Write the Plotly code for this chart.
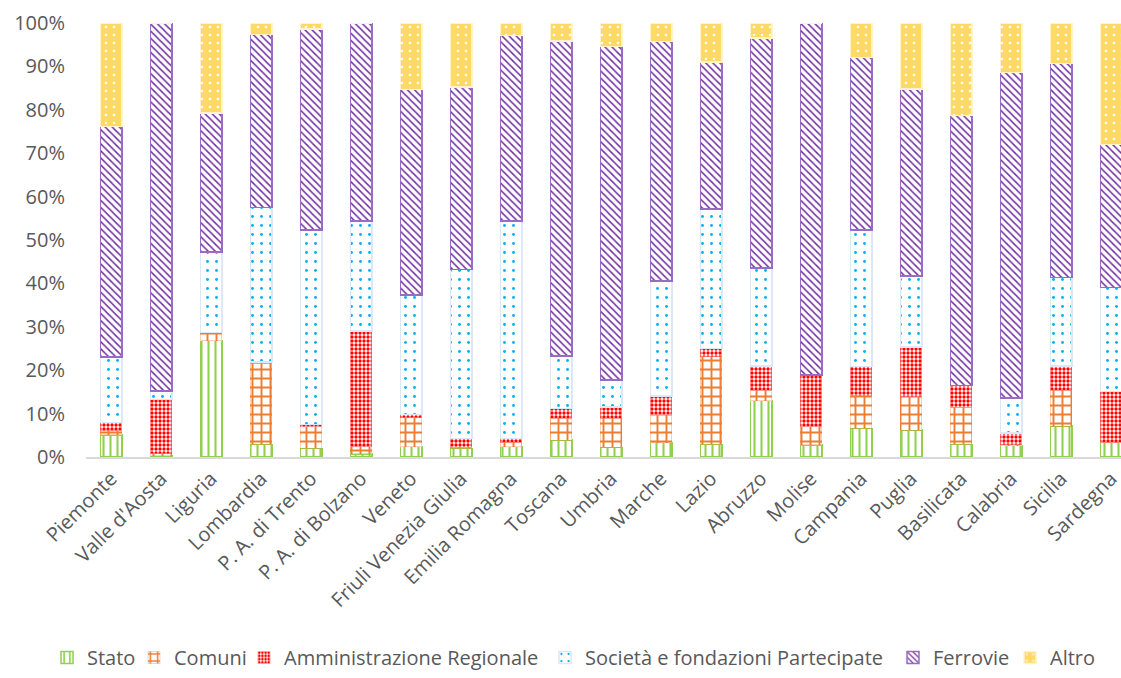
import plotly.graph_objects as go

regioni = [
    "Piemonte", "Valle d'Aosta", "Liguria", "Lombardia", "P. A. di Trento",
    "P. A. di Bolzano", "Veneto", "Friuli Venezia Giulia", "Emilia Romagna",
    "Toscana", "Umbria", "Marche", "Lazio", "Abruzzo", "Molise", "Campania",
    "Puglia", "Basilicata", "Calabria", "Sicilia", "Sardegna",
]

# quota percentuale per soggetto proprietario
stato = [5.1, 0.3, 26.8, 2.9, 2.0, 0.7, 2.4, 2.0, 2.4, 3.9, 2.2, 3.3, 2.9, 13.0, 2.8, 6.6, 6.2, 2.9, 2.6, 7.1, 3.3]
comuni = [1.0, 0.5, 1.8, 18.7, 5.0, 1.7, 6.7, 0.3, 1.0, 5.0, 6.7, 6.4, 20.2, 2.4, 4.2, 7.5, 7.7, 8.6, 0.2, 8.3, 0.1]
amm_regionale = [1.8, 12.5, 0.1, 0.3, 0.5, 26.6, 0.7, 2.0, 0.9, 2.3, 2.6, 4.4, 1.9, 5.6, 11.9, 6.7, 11.5, 5.0, 2.7, 5.6, 11.7]
societa = [15.1, 1.9, 18.5, 35.6, 44.8, 25.4, 27.5, 38.9, 50.1, 12.1, 6.3, 26.5, 32.2, 22.5, 0.0, 31.5, 16.3, 0.0, 8.1, 20.4, 24.0]
ferrovie = [53.1, 84.8, 32.1, 39.9, 46.3, 45.6, 47.4, 42.0, 42.7, 72.6, 76.8, 55.1, 33.8, 53.0, 81.1, 39.8, 43.1, 62.2, 75.0, 49.3, 32.9]
altro = [23.9, 0.0, 20.7, 2.6, 1.4, 0.0, 15.3, 14.8, 2.9, 4.1, 5.4, 4.3, 9.0, 3.5, 0.0, 7.9, 15.2, 21.3, 11.4, 9.3, 28.0]

y_ticks = [0, 10, 20, 30, 40, 50, 60, 70, 80, 90, 100]

FONT = "Open Sans"
TEXT = "#595959"
SIZE = 20

# nome, valori, motivo di riempimento, bordo, spessore bordo, inizio testo legenda (px)
serie = [
    ("Stato", stato, dict(shape="|", fgcolor="#92D050", bgcolor="white", size=7, solidity=0.3), "#92D050", 1.5, 87),
    ("Comuni", comuni, dict(shape="+", fgcolor="#ED7D31", bgcolor="white", size=9, solidity=0.38), "rgba(237,125,49,0.35)", 1, 174),
    ("Amministrazione Regionale", amm_regionale, dict(shape=".", fgcolor="#FF0000", bgcolor="white", size=4, solidity=0.55), "rgba(255,120,120,0.6)", 1, 284),
    ("Società e fondazioni Partecipate", societa, dict(shape=".", fgcolor="#00B0F0", bgcolor="white", size=9, solidity=0.08), "#DCE8F5", 1.5, 585),
    ("Ferrovie", ferrovie, dict(shape="\\", fgcolor="#7030A0", bgcolor="white", size=5, solidity=0.3), "#9A6BC6", 1.5, 933),
    ("Altro", altro, dict(shape=".", fgcolor="white", bgcolor="#FFD966", size=8, solidity=0.08), "#FFF2CC", 1.5, 1050),
]

W, H = 1121, 678

fig = go.Figure()
legend_layout = {}
for i, (nome, valori, pattern, bordo, spessore, x_testo) in enumerate(serie):
    key = "legend" if i == 0 else f"legend{i + 1}"
    fig.add_trace(go.Bar(
        x=regioni,
        y=valori,
        name=nome,
        width=0.43,
        legend=key,
        marker=dict(
            color=pattern["bgcolor"],
            pattern=dict(fillmode="replace", **pattern),
            line=dict(color=bordo, width=spessore),
        ),
    ))
    legend_layout[key] = dict(
        orientation="h",
        xref="container",
        yref="container",
        x=(x_testo - 40) / W,
        xanchor="left",
        y=1 / H,
        yanchor="bottom",
        font=dict(family=FONT, size=SIZE, color=TEXT),
        itemwidth=30,
        bgcolor="rgba(0,0,0,0)",
        borderwidth=0,
    )

fig.update_layout(
    barmode="stack",
    width=W,
    height=H,
    margin=dict(l=86, r=0, t=23, b=221, autoexpand=False),
    paper_bgcolor="white",
    plot_bgcolor="white",
    font=dict(family=FONT, size=SIZE, color=TEXT),
    showlegend=True,
    xaxis=dict(
        range=[-0.5, 20.2],
        tickmode="array",
        tickvals=regioni,
        ticktext=regioni,
        tickangle=-45,
        showgrid=False,
        showline=True,
        linecolor="#D9D9D9",
        linewidth=2,
        ticks="",
        tickfont=dict(family=FONT, size=SIZE, color=TEXT),
    ),
    yaxis=dict(
        range=[0, 100],
        tickvals=y_ticks,
        ticktext=[f"{v}%" for v in y_ticks],
        showgrid=False,
        showline=False,
        zeroline=False,
        ticks="",
        ticklabelstandoff=20,
        tickfont=dict(family=FONT, size=SIZE, color=TEXT),
    ),
    **legend_layout,
)

fig.write_html("out.html")
